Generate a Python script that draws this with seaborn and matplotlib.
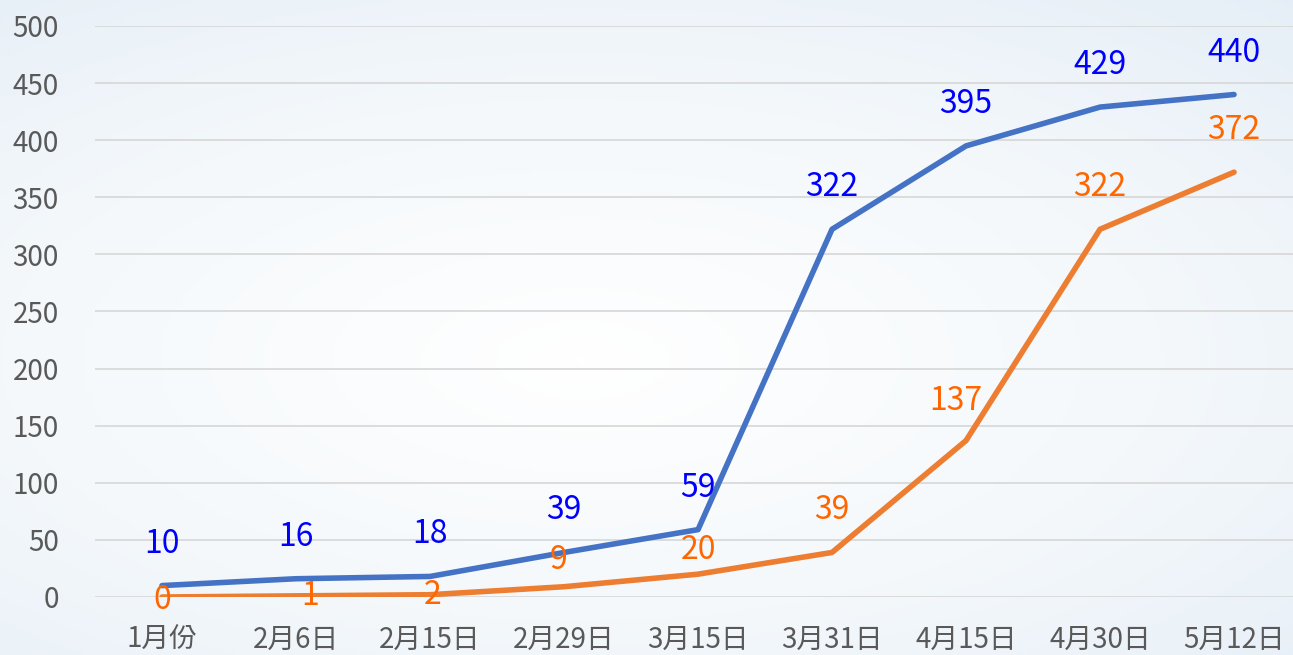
import numpy as np
import pandas as pd
import matplotlib.pyplot as plt
import seaborn as sns

# data
dates = ["1月份", "2月6日", "2月15日", "2月29日", "3月15日", "3月31日", "4月15日", "4月30日", "5月12日"]
blue_vals = [10, 16, 18, 39, 59, 322, 395, 429, 440]
orange_vals = [0, 1, 2, 9, 20, 39, 137, 322, 372]

# label offsets in pixels (dx, dy) - style only
blue_off = [(0, 42)] * 9
orange_off = [(0, -3), (14, 0), (3, 0), (-6, 27), (0, 24), (0, 42), (-10, 40), (0, 42), (0, 42)]

sns.set_theme(style="white")
plt.rcParams['font.family'] = ['Noto Sans CJK TC', 'DejaVu Sans']

df = pd.DataFrame({"date": dates, "blue": blue_vals, "orange": orange_vals})
df["x"] = range(len(dates))

fig = plt.figure(figsize=(12.93, 6.55), dpi=100)

# soft bluish background
bg = fig.add_axes([0, 0, 1, 1], zorder=-10)
yy, xx = np.mgrid[0:1:200j, 0:1:400j]
r = np.sqrt(((xx - 0.45) / 0.9) ** 2 + ((yy - 0.55) / 0.8) ** 2)
bg.imshow(np.clip(r, 0, 1), cmap=sns.blend_palette(["#ffffff", "#f4f8fb", "#e3edf6"], as_cmap=True),
          aspect="auto", extent=[0, 1, 0, 1], vmin=0, vmax=1)
bg.axis("off")

ax = fig.add_axes([95 / 1293, 58 / 655, 1198 / 1293, 571 / 655])
ax.patch.set_alpha(0)

sns.lineplot(data=df, x="x", y="blue", ax=ax, color="#4472C4", linewidth=4, zorder=3)
sns.lineplot(data=df, x="x", y="orange", ax=ax, color="#ED7D31", linewidth=4, zorder=3)

for i in range(len(dates)):
    ax.annotate(str(blue_vals[i]), (i, blue_vals[i]), xytext=(blue_off[i][0] * 0.72, blue_off[i][1] * 0.72),
                textcoords="offset points", ha="center", va="center", color="#0000FF", fontsize=23, zorder=4)
    ax.annotate(str(orange_vals[i]), (i, orange_vals[i]), xytext=(orange_off[i][0] * 0.72, orange_off[i][1] * 0.72),
                textcoords="offset points", ha="center", va="center", color="#FF6600", fontsize=23, zorder=4)

ax.set_xlim(-0.5, 8.44)
ax.set_ylim(0, 500)
ax.set_yticks(range(0, 501, 50))
ax.set_xticks(df["x"])
ax.set_xticklabels(dates)
ax.grid(axis="y", color="#d9d9d9", linewidth=1.3)
ax.set_axisbelow(True)
for s in ax.spines.values():
    s.set_visible(False)
ax.tick_params(axis="both", length=0, labelsize=20, labelcolor="#595959")
ax.tick_params(axis="y", pad=26)
ax.tick_params(axis="x", pad=20)
ax.set_xlabel("")
ax.set_ylabel("")

fig.savefig("out.png", dpi=100)
